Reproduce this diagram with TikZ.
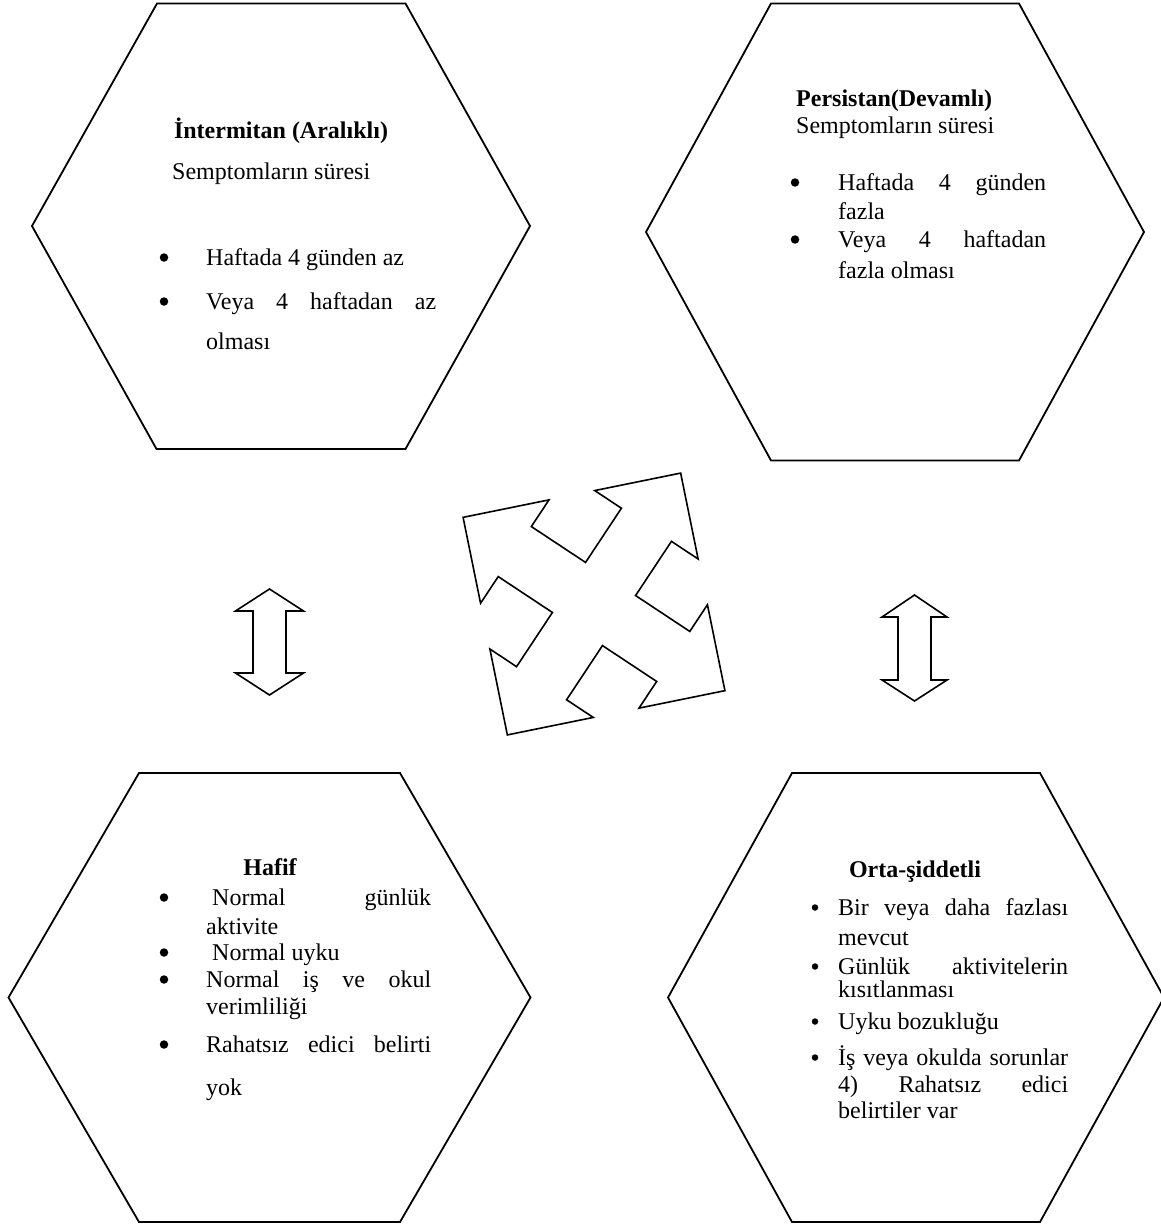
\documentclass[tikz,border=0pt]{standalone}
\usepackage{fontspec}
\setmainfont{Liberation Serif}
\begin{document}
\begin{tikzpicture}[x=1pt,y=-1pt,
  hexa/.style={draw=black, line width=1.8pt, line join=miter},
  shp/.style={draw=black, line width=1.6pt, fill=white, line join=miter},
  txt/.style={anchor=base west, inner sep=0pt, font=\fontsize{24}{28}\selectfont},
  ttl/.style={anchor=base, inner sep=0pt, font=\fontsize{24}{28}\selectfont\bfseries},
  ttlw/.style={anchor=base west, inner sep=0pt, font=\fontsize{24}{28}\selectfont\bfseries},
  dot/.style={circle, fill=black, inner sep=0pt, minimum size=8.5pt},
  sdot/.style={circle, fill=black, inner sep=0pt, minimum size=6.5pt}]
\useasboundingbox (0,0) rectangle (1161,1228);

% hexagons
\draw[hexa] (157,3.5) -- (405.5,3.5) -- (530,226) -- (405.5,449) -- (156.5,449) -- (32,226) -- cycle;
\draw[hexa] (771,3.5) -- (1019,3.5) -- (1144,232) -- (1019,460.5) -- (771,460.5) -- (646,232) -- cycle;
\draw[hexa] (139,773) -- (400,773) -- (530.5,997.5) -- (400,1222) -- (139,1222) -- (8.5,997.5) -- cycle;
\draw[hexa] (792,773) -- (1040,773) -- (1164,997.5) -- (1040,1222) -- (792,1222) -- (668,997.5) -- cycle;

% vertical double arrows
\draw[shp] (269.5,589) -- (303.5,611) -- (286,611) -- (286,673) -- (303.5,673) -- (269.5,695)
  -- (235.5,673) -- (253,673) -- (253,611) -- (235.5,611) -- cycle;
\draw[shp] (914.5,595) -- (947,617) -- (931,617) -- (931,680) -- (947,680) -- (914.5,701)
  -- (882,680) -- (898,680) -- (898,617) -- (882,617) -- cycle;

% four-way arrow
\begin{scope}[shift={(594,604)}, rotate=-33.5]
\draw[shp] (30,-30) -- (95,-30) -- (95,-62) -- (157,0) -- (95,62) -- (95,30) -- (30,30)
  -- (30,95) -- (62,95) -- (0,157) -- (-62,95) -- (-30,95) -- (-30,30)
  -- (-95,30) -- (-95,62) -- (-157,0) -- (-95,-62) -- (-95,-30) -- (-30,-30)
  -- (-30,-95) -- (-62,-95) -- (0,-157) -- (62,-95) -- (30,-95) -- cycle;
\end{scope}

% top-left
\node[ttl] (a0) at (281,139) {İntermitan (Aralıklı)};
\node[txt] (a1) at (172,179) {Semptomların süresi};
\node[dot] (ab1) at (164,257.5) {};
\node[txt] (a2) at (206,265) {Haftada 4 günden az};
\node[dot] (ab2) at (164,301.5) {};
\node[txt] (a3) at (206,309) {\hbox to 230pt{Veya\hfill 4\hfill haftadan\hfill az}};
\node[txt] (a4) at (206,349) {olması};

% top-right
\node[ttlw] (b0) at (796,107) {Persistan(Devamlı)};
\node[txt] (b1) at (796,134) {Semptomların süresi};
\node[dot] (bb1) at (795,182.5) {};
\node[txt] (b2) at (838,190) {\hbox to 208pt{Haftada\hfill 4\hfill günden}};
\node[txt] (b3) at (838,219) {fazla};
\node[dot] (bb2) at (795,239.5) {};
\node[txt] (b4) at (838,247) {\hbox to 208pt{Veya\hfill 4\hfill haftadan}};
\node[txt] (b5) at (838,278) {fazla olması};

% bottom-left
\node[ttl] (c0) at (270,875) {Hafif};
\node[dot] (cb1) at (164,897.5) {};
\node[txt] (c1) at (212,905) {\hbox to 219pt{Normal\hfill günlük}};
\node[txt] (c2) at (206,934) {aktivite};
\node[dot] (cb2) at (164,952.5) {};
\node[txt] (c3) at (212,960) {Normal uyku};
\node[dot] (cb3) at (164,979.5) {};
\node[txt] (c4) at (206,987) {\hbox to 225pt{Normal\hfill iş\hfill ve\hfill okul}};
\node[txt] (c5) at (206,1014) {verimliliği};
\node[dot] (cb4) at (164,1044.5) {};
\node[txt] (c6) at (206,1052) {\hbox to 225pt{Rahatsız\hfill edici\hfill belirti}};
\node[txt] (c7) at (206,1095) {yok};

% bottom-right
\node[ttl] (d0) at (915,877) {Orta-şiddetli};
\node[sdot] (db1) at (815,907.5) {};
\node[txt] (d1) at (838,915) {\hbox to 230pt{Bir\hfill veya\hfill daha\hfill fazlası}};
\node[txt] (d2) at (838,945) {mevcut};
\node[sdot] (db2) at (815,966.5) {};
\node[txt] (d3) at (838,974) {\hbox to 230pt{Günlük\hfill aktivitelerin}};
\node[txt] (d4) at (838,997) {kısıtlanması};
\node[sdot] (db3) at (815,1021.5) {};
\node[txt] (d5) at (838,1029) {Uyku bozukluğu};
\node[sdot] (db4) at (815,1057.5) {};
\node[txt] (d6) at (838,1065) {\hbox to 230pt{İş\hfill veya\hfill okulda\hfill sorunlar}};
\node[txt] (d7) at (838,1092) {\hbox to 230pt{4)\hfill Rahatsız\hfill edici}};
\node[txt] (d8) at (838,1118) {belirtiler var};
\end{tikzpicture}
\end{document}
